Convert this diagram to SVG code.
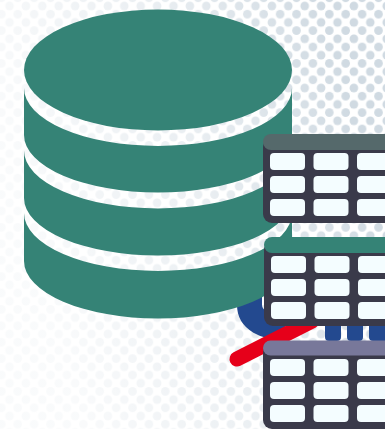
<svg xmlns="http://www.w3.org/2000/svg" width="385" height="429" viewBox="0 0 385 429">
<style>
.teal{fill:#358376}
.body{fill:#3a3a4a}
.cell{fill:#f4fdff}
.blue{fill:#23498f}
</style>
<defs>
<pattern id="dots" width="16.4" height="16.4" patternUnits="userSpaceOnUse" patternTransform="translate(9.5 6)">
<circle cx="0" cy="0" r="4.3" fill="#d0dae2"/><circle cx="16.4" cy="0" r="4.3" fill="#d0dae2"/><circle cx="0" cy="16.4" r="4.3" fill="#d0dae2"/><circle cx="16.4" cy="16.4" r="4.3" fill="#d0dae2"/>
<circle cx="8.2" cy="8.2" r="4.3" fill="#d0dae2"/>
</pattern>
<linearGradient id="fade" x1="0" y1="0.3" x2="1" y2="0">
<stop offset="0" stop-color="#fff" stop-opacity=".88"/>
<stop offset=".45" stop-color="#fff" stop-opacity=".55"/>
<stop offset=".85" stop-color="#fff" stop-opacity="0"/>
</linearGradient>
<g id="cells">
<rect class="cell" x="7" y="19" width="35" height="17" rx="4"/><rect class="cell" x="50.500" y="19" width="35" height="17" rx="4"/><rect class="cell" x="94" y="19" width="35" height="17" rx="4"/>
<rect class="cell" x="7" y="42" width="35" height="17" rx="4"/><rect class="cell" x="50.500" y="42" width="35" height="17" rx="4"/><rect class="cell" x="94" y="42" width="35" height="17" rx="4"/>
<rect class="cell" x="7" y="65" width="35" height="17" rx="4"/><rect class="cell" x="50.500" y="65" width="35" height="17" rx="4"/><rect class="cell" x="94" y="65" width="35" height="17" rx="4"/>
</g>
<rect id="tbody" class="body" x="0" y="4" width="140" height="85" rx="9"/>
</defs>
<rect width="385" height="429" fill="#fff"/>
<rect width="385" height="429" fill="url(#dots)"/>
<rect width="385" height="429" fill="url(#fade)"/>
<g id="logo-c">
<path d="M249.500 285V305C249.500 320 265 327.500 285 327.500" fill="none" stroke="#23498f" stroke-width="25"/>
<path class="blue" d="M325 320H341V337Q341 341 337 341H329Q325 341 325 337ZM347 320H363V337Q363 341 359 341H351Q347 341 347 337ZM369 320H385V341H373Q369 341 369 337Z"/>
</g>
<g id="database">
<ellipse class="teal" cx="158" cy="70" rx="134" ry="60.500"/>
<path class="teal" d="M24 88A134 58 0 0 0 292 88V135A134 57.500 0 0 1 24 135Z"/>
<path class="teal" d="M24 150.500A134 58 0 0 0 292 150.500V198A134 57.500 0 0 1 24 198Z"/>
<path class="teal" d="M24 213A134 58 0 0 0 292 213V261A134 57.500 0 0 1 24 261Z"/>
</g>
<path id="logo-slash" d="M237 359L312 321" fill="none" stroke="#e6001a" stroke-width="15" stroke-linecap="round"/>
<g id="table-1" transform="translate(263 134)">
<use href="#tbody"/>
<rect x="0" y="0" width="140" height="16" rx="8" fill="#55696b"/>
<use href="#cells"/>
</g>
<g id="table-2" transform="translate(264 237)">
<use href="#tbody"/>
<rect class="teal" x="0" y="0" width="140" height="16" rx="8"/>
<use href="#cells"/>
</g>
<g id="table-3" transform="translate(263 340)">
<use href="#tbody"/>
<rect x="0" y="0.500" width="140" height="15" rx="7.500" fill="#78789a"/>
<use href="#cells"/>
</g>
</svg>
